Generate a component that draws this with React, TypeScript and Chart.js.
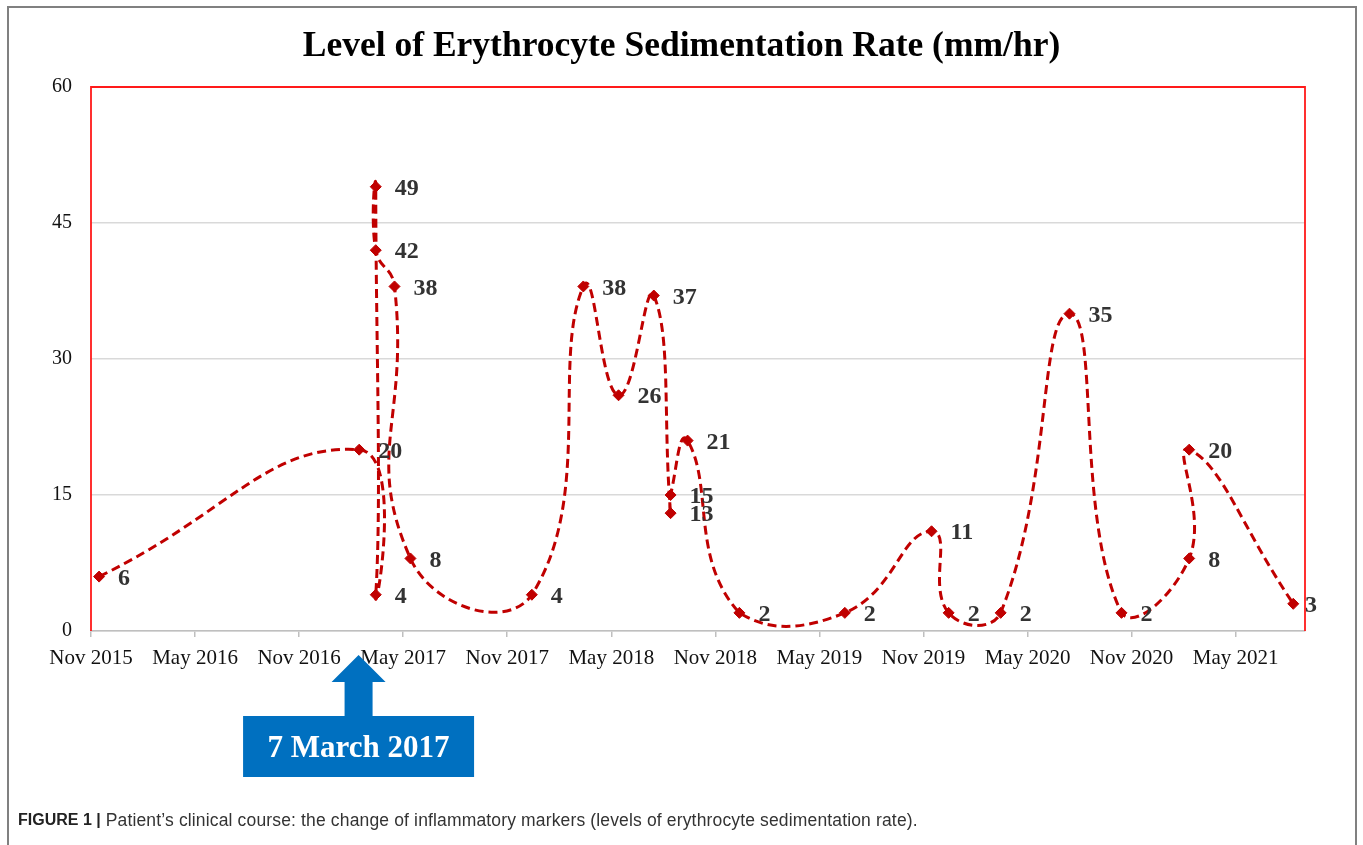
import React, { useEffect, useRef } from "react";
import { Chart, registerables } from "chart.js";

Chart.register(...registerables);

const TITLE = "Level of Erythrocyte Sedimentation Rate (mm/hr)";
const CAPTION_BOLD = "FIGURE 1 |";
const CAPTION_TEXT =
  " Patient\u2019s clinical course: the change of inflammatory markers (levels of erythrocyte sedimentation rate).";
const ANNOTATION_TEXT = "7 March 2017";
const ANNOTATION_DATE = "2017-02-13";

const DATES = [
  "2015-11-15",
  "2017-02-14",
  "2017-03-14",
  "2017-03-14",
  "2017-03-14",
  "2017-04-16",
  "2017-05-14",
  "2017-12-14",
  "2018-03-13",
  "2018-05-14",
  "2018-07-15",
  "2018-08-14",
  "2018-08-14",
  "2018-09-13",
  "2018-12-13",
  "2019-06-15",
  "2019-11-15",
  "2019-12-15",
  "2020-03-15",
  "2020-07-14",
  "2020-10-14",
  "2021-02-10",
  "2021-02-10",
  "2021-08-11",
];
const ESR = [6, 20, 4, 49, 42, 38, 8, 4, 38, 26, 37, 13, 15, 21, 2, 2, 11, 2, 2, 35, 2, 8, 20, 3];

const X_TICK_LABELS = [
  "Nov 2015",
  "May 2016",
  "Nov 2016",
  "May 2017",
  "Nov 2017",
  "May 2018",
  "Nov 2018",
  "May 2019",
  "Nov 2019",
  "May 2020",
  "Nov 2020",
  "May 2021",
];
const Y_TICKS = [0, 15, 30, 45, 60];
const AXIS_START = "2015-11-01";
const AXIS_END = "2021-09-01";

const MONTHS = ["Jan", "Feb", "Mar", "Apr", "May", "Jun", "Jul", "Aug", "Sep", "Oct", "Nov", "Dec"];

function absMonths(dateStr: string): number {
  const [y, m, d] = dateStr.split("-").map(Number);
  const dim = new Date(y, m, 0).getDate();
  return y * 12 + (m - 1) + (d - 1) / dim;
}
const ORIGIN = absMonths(AXIS_START);
const toX = (dateStr: string) => absMonths(dateStr) - ORIGIN;
const labelToX = (label: string) => {
  const [mon, yr] = label.split(" ");
  return Number(yr) * 12 + MONTHS.indexOf(mon) - ORIGIN;
};
const X_TICK_VALUES = X_TICK_LABELS.map(labelToX);

const SERIF = "'Liberation Serif', 'Times New Roman', serif";
const SANS = "'Liberation Sans', Arial, sans-serif";
const RED = "#C00000";

const decorPlugin = {
  id: "decor",
  beforeDraw(chart: any) {
    const { ctx, width, height } = chart;
    ctx.save();
    ctx.fillStyle = "#ffffff";
    ctx.fillRect(0, 0, width, height);
    ctx.restore();
  },
  beforeDatasetsDraw(chart: any) {
    const { ctx, chartArea } = chart;
    ctx.save();
    ctx.strokeStyle = "#FF1A1A";
    ctx.lineWidth = 1.8;
    ctx.beginPath();
    ctx.moveTo(chartArea.left, chartArea.bottom);
    ctx.lineTo(chartArea.left, chartArea.top);
    ctx.lineTo(chartArea.right, chartArea.top);
    ctx.lineTo(chartArea.right, chartArea.bottom);
    ctx.stroke();
    ctx.restore();
  },
  afterDatasetsDraw(chart: any) {
    const { ctx, chartArea } = chart;
    const meta = chart.getDatasetMeta(0);
    ctx.save();
    ctx.font = `bold 24px ${SERIF}`;
    ctx.fillStyle = "#333333";
    ctx.textAlign = "left";
    ctx.textBaseline = "middle";
    meta.data.forEach((pt: any, i: number) => {
      const off = Math.min(19, chartArea.right - pt.x);
      ctx.fillText(String(ESR[i]), pt.x + off, pt.y + 2);
    });
    ctx.restore();
  },
  afterDraw(chart: any) {
    const { ctx, width, chartArea } = chart;
    const xs = chart.scales.x;
    ctx.save();
    // figure frame
    ctx.strokeStyle = "#808080";
    ctx.lineWidth = 2;
    ctx.strokeRect(8, 7, 1348, 860);
    // title
    ctx.fillStyle = "#000000";
    ctx.font = `bold 35.5px ${SERIF}`;
    ctx.textAlign = "center";
    ctx.textBaseline = "middle";
    ctx.fillText(TITLE, width / 2, 47);

    // annotation arrow + box
    const cx = xs.getPixelForValue(toX(ANNOTATION_DATE));
    const tipY = chartArea.bottom + 24;
    const headY = tipY + 27;
    const boxTop = tipY + 61;
    const boxH = 61;
    const boxW = 231;
    ctx.fillStyle = "#0070C0";
    ctx.beginPath();
    ctx.moveTo(cx, tipY);
    ctx.lineTo(cx + 27, headY);
    ctx.lineTo(cx + 14, headY);
    ctx.lineTo(cx + 14, boxTop + 1);
    ctx.lineTo(cx - 14, boxTop + 1);
    ctx.lineTo(cx - 14, headY);
    ctx.lineTo(cx - 27, headY);
    ctx.closePath();
    ctx.fill();
    ctx.fillRect(cx - boxW / 2, boxTop, boxW, boxH);
    ctx.fillStyle = "#ffffff";
    ctx.font = `bold 31px ${SERIF}`;
    ctx.textAlign = "center";
    ctx.textBaseline = "middle";
    ctx.fillText(ANNOTATION_TEXT, cx, boxTop + boxH / 2 + 2);

    // caption
    ctx.textAlign = "left";
    ctx.textBaseline = "middle";
    ctx.font = `bold 16px ${SANS}`;
    ctx.fillStyle = "#222222";
    ctx.fillText(CAPTION_BOLD, 18, 821);
    const w = ctx.measureText(CAPTION_BOLD).width;
    ctx.font = `17.5px ${SANS}`;
    ctx.fillStyle = "#333333";
    try {
      (ctx as any).letterSpacing = "0.15px";
    } catch (e) {}
    ctx.fillText(CAPTION_TEXT, 18 + w, 821);
    try {
      (ctx as any).letterSpacing = "0px";
    } catch (e) {}
    ctx.restore();
  },
};

export default function App() {
  const ref = useRef<HTMLCanvasElement | null>(null);
  useEffect(() => {
    if (!ref.current) return;
    const chart = new Chart(ref.current, {
      type: "line",
      data: {
        datasets: [
          {
            data: DATES.map((d, i) => ({ x: toX(d), y: ESR[i] })),
            borderColor: RED,
            borderWidth: 3,
            borderDash: [9, 5],
            tension: 0.5,
            pointStyle: "rectRot",
            pointRadius: 5.5,
            pointBackgroundColor: RED,
            pointBorderColor: RED,
            pointBorderWidth: 1,
            fill: false,
            clip: 8,
          } as any,
        ],
      },
      options: {
        responsive: false,
        maintainAspectRatio: false,
        animation: false,
        layout: { padding: { left: 51, right: 58, top: 87, bottom: 174 } },
        plugins: { legend: { display: false }, tooltip: { enabled: false }, title: { display: false } },
        scales: {
          x: {
            type: "linear",
            min: 0,
            max: toX(AXIS_END),
            afterBuildTicks: (s: any) => {
              s.ticks = X_TICK_VALUES.map((v) => ({ value: v }));
            },
            afterFit: (s: any) => {
              s.height = 40;
            },
            ticks: {
              callback: (_v: any, i: number) => X_TICK_LABELS[i],
              font: { family: SERIF, size: 21 },
              color: "#111111",
              padding: 9,
              maxRotation: 0,
              autoSkip: false,
            },
            grid: {
              drawOnChartArea: false,
              drawTicks: true,
              tickLength: 6,
              color: "#bfbfbf",
              lineWidth: 1.5,
            },
            border: { display: true, color: "#bfbfbf", width: 1.5 },
          },
          y: {
            type: "linear",
            min: 0,
            max: 60,
            afterBuildTicks: (s: any) => {
              s.ticks = Y_TICKS.map((v) => ({ value: v }));
            },
            afterFit: (s: any) => {
              s.width = 40;
            },
            ticks: {
              font: { family: SERIF, size: 20 },
              color: "#111111",
              padding: 19,
            },
            grid: { color: "#d9d9d9", lineWidth: 1.5, drawTicks: false },
            border: { display: false },
          },
        },
      } as any,
      plugins: [decorPlugin],
    });
    return () => chart.destroy();
  }, []);
  return (
    <div style={{ position: "absolute", left: 0, top: 0, width: 1363, height: 845 }}>
      <canvas ref={ref} width={1363} height={845} style={{ display: "block" }} />
    </div>
  );
}
